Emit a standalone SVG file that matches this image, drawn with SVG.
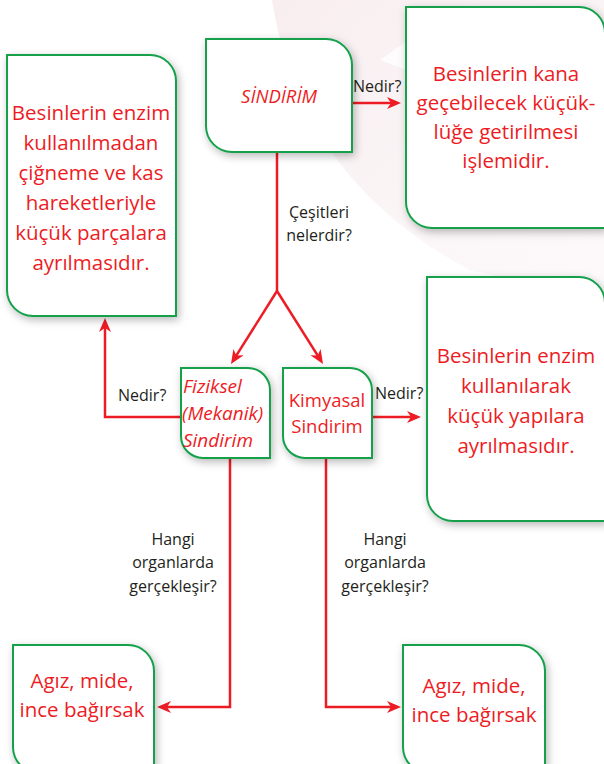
<svg xmlns="http://www.w3.org/2000/svg" width="604" height="764" viewBox="0 0 604 764">
<style>
.box{fill:#ffffff;stroke:#12a04a;stroke-width:2;filter:url(#sh)}
.red{font-family:"Open Sans","Liberation Sans",sans-serif;fill:#ed1c24;text-anchor:middle}
.big{font-size:20.5px}
.lbl{font-family:"Open Sans","Liberation Sans",sans-serif;font-size:16px;fill:#231f20}
.mid{text-anchor:middle}
.start{text-anchor:start}
.it{font-style:italic}
.con{fill:none;stroke:#ed1c24;stroke-width:2.5}
.arr{marker-end:url(#ah)}
</style>
<defs>
<filter id="sh" x="-20%" y="-20%" width="140%" height="140%">
<feDropShadow dx="2" dy="3" stdDeviation="4" flood-color="#000" flood-opacity="0.28"/>
</filter>
<marker id="ah" markerUnits="userSpaceOnUse" markerWidth="16" markerHeight="14" refX="8" refY="6" orient="auto">
<path d="M0,0 L14,6 L0,12 L4,6 Z" fill="#ed1c24"/>
</marker>
<linearGradient id="bg" x1="0" y1="0" x2="1" y2="1">
<stop offset="0" stop-color="#f8eef0"/>
<stop offset="1" stop-color="#fdfafb"/>
</linearGradient>
</defs>
<rect width="604" height="764" fill="#ffffff"/>
<path d="M272,0 Q300,180 470,270 L604,300 L604,0 Z" fill="url(#bg)"/>
<path d="M380,60 L430,25 L420,75 Z" fill="#ffffff" opacity="0.8"/>

<g id="connectors">
<line class="con arr" x1="352" y1="103" x2="395" y2="103"/>
<line class="con" x1="277" y1="152" x2="277" y2="291"/>
<line class="con arr" x1="277" y1="291" x2="234.2" y2="358.9"/>
<line class="con arr" x1="277" y1="291" x2="319.8" y2="358.9"/>
<polyline class="con arr" points="181,417 105,417 105,324"/>
<line class="con arr" x1="372" y1="417" x2="415" y2="417"/>
<polyline class="con arr" points="230,458 230,707 163,707"/>
<polyline class="con arr" points="326,458 326,707 395,707"/>
<text class="lbl" x="353" y="92">Nedir?</text>
<text class="lbl mid" x="319" y="218">Çeşitleri</text>
<text class="lbl mid" x="319" y="241">nelerdir?</text>
<text class="lbl" x="118" y="401">Nedir?</text>
<text class="lbl" x="375" y="399">Nedir?</text>
<text class="lbl mid" x="173" y="545">Hangi</text>
<text class="lbl mid" x="173" y="568">organlarda</text>
<text class="lbl mid" x="173" y="592">gerçekleşir?</text>
<text class="lbl mid" x="385" y="545">Hangi</text>
<text class="lbl mid" x="385" y="568">organlarda</text>
<text class="lbl mid" x="385" y="592">gerçekleşir?</text>
</g>

<g id="sindirim">
<path class="box" d="M206,39 H326 A26,26 0 0 1 352,65 V152 H232 A26,26 0 0 1 206,126 Z"/>
<text class="red it" x="279" y="103" font-size="18.5">SİNDİRİM</text>
</g>

<g id="tanim">
<path class="box" d="M406,7 H579 A26,26 0 0 1 605,33 V228 H432 A26,26 0 0 1 406,202 Z"/>
<text class="red big" x="506" y="81">Besinlerin kana</text>
<text class="red big" x="506" y="110">geçebilecek küçük-</text>
<text class="red big" x="506" y="139">lüğe getirilmesi</text>
<text class="red big" x="506" y="168">işlemidir.</text>
</g>

<g id="fiziksel-tanim">
<path class="box" d="M7,55 H150 A26,26 0 0 1 176,81 V316 H33 A26,26 0 0 1 7,290 Z"/>
<text class="red big" x="91" y="120">Besinlerin enzim</text>
<text class="red big" x="91" y="150">kullanılmadan</text>
<text class="red big" x="91" y="180">çiğneme ve kas</text>
<text class="red big" x="91" y="210">hareketleriyle</text>
<text class="red big" x="91" y="240">küçük parçalara</text>
<text class="red big" x="91" y="270">ayrılmasıdır.</text>
</g>

<g id="fiziksel">
<path class="box" d="M181,368 H248 A22,22 0 0 1 270,390 V458 H203 A22,22 0 0 1 181,436 Z"/>
<text class="red it start" x="183" y="393" font-size="19">Fiziksel</text>
<text class="red it start" x="182" y="420" font-size="19">(Mekanik)</text>
<text class="red it start" x="183" y="447" font-size="19">Sindirim</text>
</g>

<g id="kimyasal">
<path class="box" d="M283,368 H350 A22,22 0 0 1 372,390 V458 H305 A22,22 0 0 1 283,436 Z"/>
<text class="red" x="327" y="407" font-size="18.5">Kimyasal</text>
<text class="red" x="327" y="433" font-size="18.5">Sindirim</text>
</g>

<g id="kimyasal-tanim">
<path class="box" d="M427,277 H579 A26,26 0 0 1 605,303 V521 H453 A26,26 0 0 1 427,495 Z"/>
<text class="red big" x="516" y="363">Besinlerin enzim</text>
<text class="red big" x="516" y="393">kullanılarak</text>
<text class="red big" x="516" y="423">küçük yapılara</text>
<text class="red big" x="516" y="453">ayrılmasıdır.</text>
</g>

<g id="fiziksel-organ">
<path class="box" d="M13,645 H128 A26,26 0 0 1 154,671 V773 H39 A26,26 0 0 1 13,747 Z"/>
<text class="red big" x="82" y="688">Agız, mide,</text>
<text class="red big" x="82" y="717">ince bağırsak</text>
</g>

<g id="kimyasal-organ">
<path class="box" d="M403,645 H519 A26,26 0 0 1 545,671 V773 H429 A26,26 0 0 1 403,747 Z"/>
<text class="red big" x="474" y="693">Agız, mide,</text>
<text class="red big" x="474" y="722">ince bağırsak</text>
</g>
</svg>
